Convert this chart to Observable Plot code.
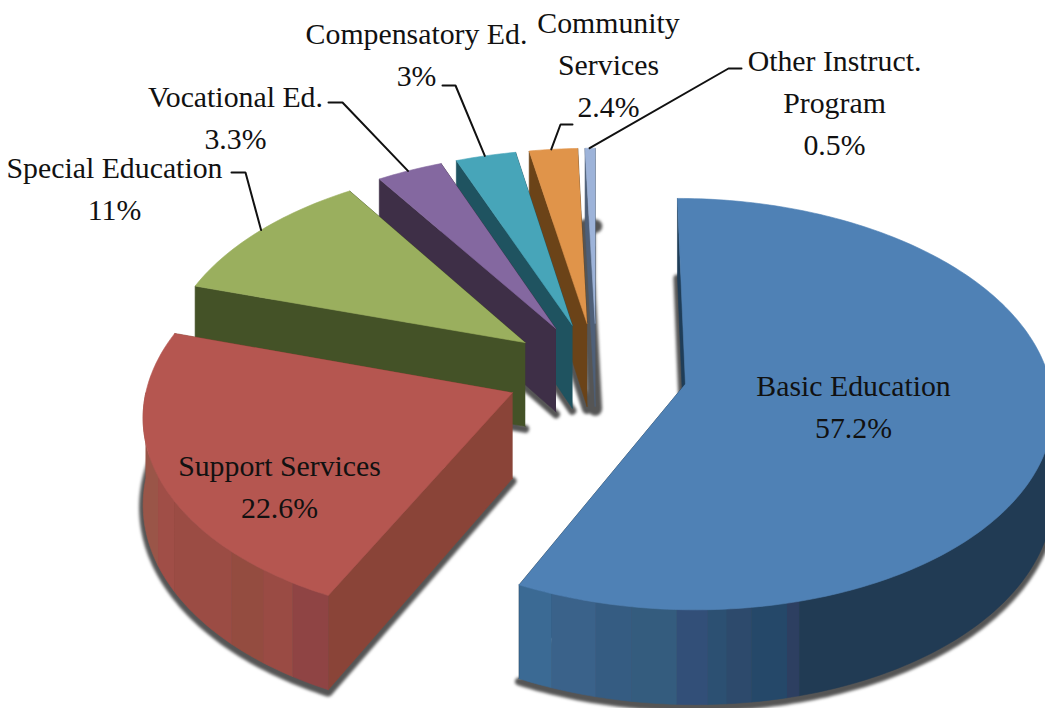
<!DOCTYPE html>
<html>
<head>
<meta charset="utf-8">
<script src="https://cdn.jsdelivr.net/npm/d3@7"></script>
<script src="https://cdn.jsdelivr.net/npm/@observablehq/plot@0.6"></script>
<style>
html,body{margin:0;padding:0;background:#fff;overflow:hidden}
.pie-shadow{filter:blur(1.6px)}
</style>
</head>
<body>
<div id="chart"></div>
<script>
// ---- data ----
const categories = ["Basic Education","Support Services","Special Education","Vocational Ed.","Compensatory Ed.","Community\nServices","Other Instruct.\nProgram"];
const shares = [57.2,22.6,11,3.3,3,2.4,0.5];

// ---- styles ----
const topColors = ["#4f81b5","#b55650","#9aaf5e","#8468a0","#47a5b9","#e0944a","#9db3d9"];
const cutColors = ["#1f3d58","#8a4438","#445227","#3e2f47","#1f5360","#6b4318","#4e5f78"];
const blueRimStops = [205.9,200.8,194.2,189,182.6,178.2,175.5,172,166.8,165,90];
const blueRimColors = ["#3b6a94","#3a628a","#355c82","#345c7e","#324f78","#2c5072","#2d4a6c","#254869","#2d3f61","#213b54"];
const redRimStops = [205.9,212,217.5,224,240,247,270];
const redRimColors = ["#8f4444","#9a4b44","#944c40","#9b4c44","#a04e47","#9a5548"];
const shadowWidths = [8,8,8,8,8,10,14];

// ---- view geometry of the tilted, exploded pie ----
const view = {cx:596, cy:372, radius:363, tilt:0.555, persp:0.098, explode:0.25, depth:85};
const rad = d => d * Math.PI / 180;
function project(wx, wy, z = 0) {
  const s = 1 / (1 - view.persp * wy);
  return [view.cx + view.radius * wx * s, view.cy + view.radius * view.tilt * wy * s + view.depth * z * s];
}
const cum = d3.cumsum(shares);
const slices = shares.map((v, i) => {
  const a0 = (i ? cum[i - 1] : 0) * 3.6, a1 = cum[i] * 3.6, m = (a0 + a1) / 2;
  return {i, a0, a1, ox: view.explode * Math.sin(rad(m)), oy: -view.explode * Math.cos(rad(m)), mid: m};
});
const rimPoint = (s, a, z = 0) => project(s.ox + Math.sin(rad(a)), s.oy - Math.cos(rad(a)), z);
const apexPoint = (s, z = 0) => project(s.ox, s.oy, z);
function arc(s, a0, a1, z) {
  const n = Math.max(1, Math.ceil(Math.abs(a1 - a0)));
  return d3.range(n + 1).map(k => rimPoint(s, a0 + (a1 - a0) * k / n, z));
}
const polys = [];
let pid = 0;
function addPoly(pts, fill, target = polys, w = 0.6) {
  const id = pid++;
  pts.forEach(([x, y]) => target.push({id, x, y, fill, w}));
}
// shadows beneath everything
const shadowRows = [];
slices.forEach((s, i) => addPoly([apexPoint(s, 1.03), ...arc(s, s.a0, s.a1, 1.03)], "#555", shadowRows, shadowWidths[i]));

// painter's order: back right slices first, then forward-left
[6,5,4,3,2,0,1].forEach(i => {
  const s = slices[i];
  const cut = (a) => [apexPoint(s), rimPoint(s, a), rimPoint(s, a, 1), apexPoint(s, 1)];
  addPoly(cut(s.a1), cutColors[i]);
  addPoly(cut(s.a0), cutColors[i]);
  if (i === 0 || i === 1) {
    const stops = i === 0 ? blueRimStops : redRimStops;
    const cols = i === 0 ? blueRimColors : redRimColors;
    cols.forEach((c, k) => {
      addPoly([...arc(s, stops[k], stops[k + 1], 0), ...arc(s, stops[k + 1], stops[k], 1)], c);
    });
  }
  addPoly([apexPoint(s), ...arc(s, s.a0, s.a1, 0)], topColors[i]);
});

// ---- labels ----
const labelX = [853,279,114,235,416,608,834];
const labelY = [403,483,185,114,51,61,99];
const labelRows = categories.map((c, i) => ({text: `${c}\n${shares[i]}%`, x: labelX[i], y: labelY[i]}));

// leader lines: rim attachment at a chosen angle, elbow, end beside the label
const leaderSlices = [2,3,4,5,6];
const leaderAngles = [307.5,332.5,344,353.5,359];
const leaderElbows = [[245,172],[342,102],[455,85],[560,124],[728,68]];
const leaderEnds = [[231,172],[328,102],[442,85],[572,124],[741,68]];
const leaderRows = leaderSlices.flatMap((si, k) => {
  const [rx, ry] = rimPoint(slices[si], leaderAngles[k]);
  return [[rx, ry], leaderElbows[k], leaderEnds[k]].map(([x, y]) => ({k, x, y}));
});

const chart = Plot.plot({
  width: 1045, height: 708,
  margin: 0,
  x: {domain: [0, 1045], range: [0, 1045], axis: null},
  y: {domain: [0, 708], range: [0, 708], axis: null},
  color: {type: "identity"},
  marks: [
    Plot.line(shadowRows, {x: "x", y: "y", z: "id", fill: "#555", stroke: "#555", strokeWidth: "w", className: "pie-shadow"}),
    Plot.line(polys, {x: "x", y: "y", z: "id", fill: "fill", stroke: "fill", strokeWidth: 0.6}),
    Plot.line(leaderRows, {x: "x", y: "y", z: "k", stroke: "#111", strokeWidth: 2, strokeLinejoin: "miter"}),
    Plot.text(labelRows, {x: "x", y: "y", text: "text", fontFamily: "Liberation Serif", fontSize: 29.8, lineHeight: 1.41, fill: "#111", lineAnchor: "middle"})
  ]
});
chart.style.display = "block";
chart.style.background = "#fff";
document.getElementById("chart").appendChild(chart);
</script>
</body>
</html>
